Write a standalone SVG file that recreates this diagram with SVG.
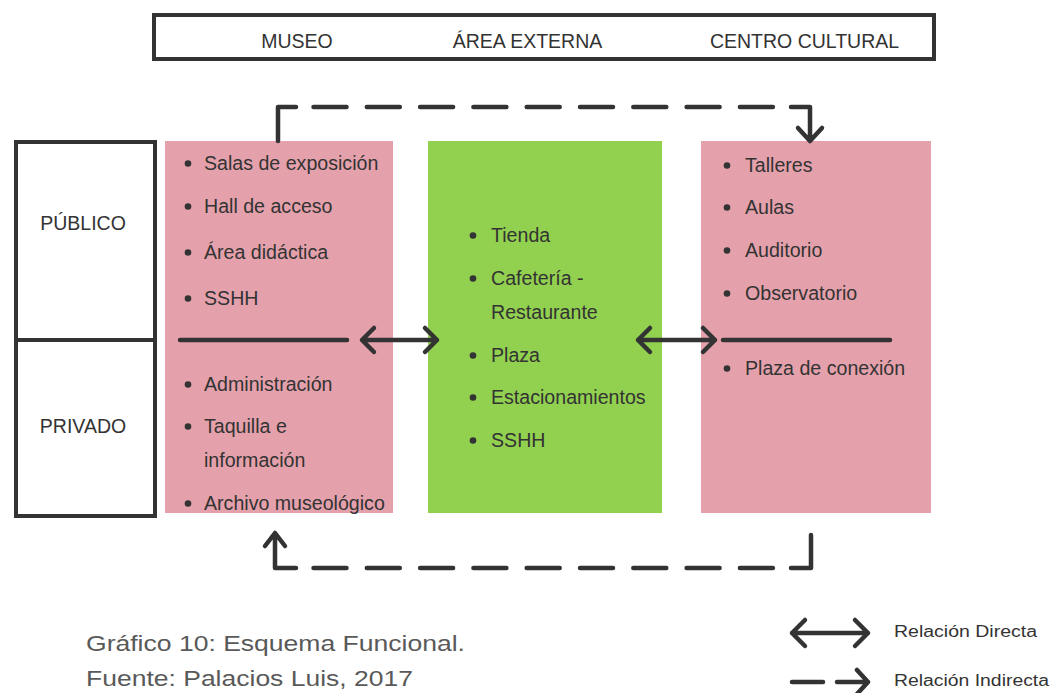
<svg xmlns="http://www.w3.org/2000/svg" width="1052" height="693" viewBox="0 0 1052 693">
<style>
text{font-family:"Liberation Sans",Arial,sans-serif;fill:#333}
.h{font-size:19.5px}
.b{font-size:19.6px}
.frame{fill:#fff;stroke:#333;stroke-width:4}
.ln{fill:none;stroke:#333;stroke-width:4.5;stroke-linecap:round;stroke-linejoin:round}
.dash{fill:none;stroke:#333;stroke-width:4.5;stroke-linecap:round;stroke-dasharray:33 20.3}
.dot{fill:#333}
.pink{fill:#E5A1AB}
.green{fill:#92D050}
.cap{font-size:22px;fill:#595959}
.leg{font-size:16px}
</style>
<g id="header">
<rect class="frame" x="154" y="15" width="780" height="44"/>
<text class="h" x="297" y="48" text-anchor="middle">MUSEO</text>
<text class="h" x="527.5" y="48" text-anchor="middle">ÁREA EXTERNA</text>
<text class="h" x="804.5" y="48" text-anchor="middle">CENTRO CULTURAL</text>
</g>
<g id="zonas">
<rect class="frame" x="16" y="142" width="139" height="374"/>
<line x1="16" y1="340" x2="155" y2="340" stroke="#333" stroke-width="4"/>
<text class="h" x="83" y="230" text-anchor="middle">PÚBLICO</text>
<text class="h" x="83" y="433" text-anchor="middle">PRIVADO</text>
</g>
<g id="museo">
<rect class="pink" x="165" y="141" width="228" height="372"/>
<circle class="dot" cx="188" cy="163.5" r="3.3"/><text class="b" x="204" y="170">Salas de exposición</text>
<circle class="dot" cx="188" cy="206.5" r="3.3"/><text class="b" x="204" y="213">Hall de acceso</text>
<circle class="dot" cx="188" cy="252.5" r="3.3"/><text class="b" x="204" y="259">Área didáctica</text>
<circle class="dot" cx="188" cy="298.5" r="3.3"/><text class="b" x="204" y="305">SSHH</text>
<line class="ln" x1="180" y1="340" x2="347" y2="340"/>
<circle class="dot" cx="188" cy="384.5" r="3.3"/><text class="b" x="204" y="391">Administración</text>
<circle class="dot" cx="188" cy="426.5" r="3.3"/><text class="b" x="204" y="433">Taquilla e</text>
<text class="b" x="204" y="467">información</text>
<circle class="dot" cx="188" cy="503.5" r="3.3"/><text class="b" x="204" y="510">Archivo museológico</text>
</g>
<g id="area-externa">
<rect class="green" x="428" y="141" width="234" height="372"/>
<circle class="dot" cx="473" cy="235.5" r="3.3"/><text class="b" x="491" y="242">Tienda</text>
<circle class="dot" cx="473" cy="278.5" r="3.3"/><text class="b" x="491" y="285">Cafetería -</text>
<text class="b" x="491" y="319">Restaurante</text>
<circle class="dot" cx="473" cy="355.5" r="3.3"/><text class="b" x="491" y="362">Plaza</text>
<circle class="dot" cx="473" cy="397.5" r="3.3"/><text class="b" x="491" y="404">Estacionamientos</text>
<circle class="dot" cx="473" cy="440.5" r="3.3"/><text class="b" x="491" y="447">SSHH</text>
</g>
<g id="centro-cultural">
<rect class="pink" x="701" y="141" width="230" height="372"/>
<circle class="dot" cx="727" cy="165.5" r="3.3"/><text class="b" x="745" y="172">Talleres</text>
<circle class="dot" cx="727" cy="207.5" r="3.3"/><text class="b" x="745" y="214">Aulas</text>
<circle class="dot" cx="727" cy="250.5" r="3.3"/><text class="b" x="745" y="257">Auditorio</text>
<circle class="dot" cx="727" cy="293.5" r="3.3"/><text class="b" x="745" y="300">Observatorio</text>
<line class="ln" x1="723" y1="340" x2="890" y2="340"/>
<circle class="dot" cx="727" cy="368.5" r="3.3"/><text class="b" x="745" y="375">Plaza de conexión</text>
</g>
<g id="connectors">
<path class="ln" d="M362 340 H437 M374 328 L362 340 L374 352 M425 328 L437 340 L425 352"/>
<path class="ln" d="M638 340 H715 M650 328 L638 340 L650 352 M703 328 L715 340 L703 352"/>
<path class="ln" d="M278 141 V107 H296"/>
<path class="dash" d="M313.5 107 H776"/>
<path class="ln" d="M791 107 H810 V140 M798 128 L810 141 L822 128"/>
<path class="ln" d="M275 534 V568 H296 M265 546 L275 533 L285 546"/>
<path class="dash" d="M313.5 568 H776"/>
<path class="ln" d="M791 568 H811 V535"/>
</g>
<g id="leyenda">
<path class="ln" d="M792 633 H868 M805 620 L792 633 L805 646 M855 620 L868 633 L855 646"/>
<path class="ln" d="M792 682 H823 M837 682 H868 M857 670 L868 682 L857 694"/>
<text class="leg" x="894" y="637" textLength="143" lengthAdjust="spacingAndGlyphs">Relación Directa</text>
<text class="leg" x="894" y="686" textLength="155" lengthAdjust="spacingAndGlyphs">Relación Indirecta</text>
</g>
<g id="caption">
<text class="cap" x="86" y="651" textLength="379" lengthAdjust="spacingAndGlyphs">Gráfico 10: Esquema Funcional.</text>
<text class="cap" x="86" y="686" textLength="327" lengthAdjust="spacingAndGlyphs">Fuente: Palacios Luis, 2017</text>
</g>
</svg>
